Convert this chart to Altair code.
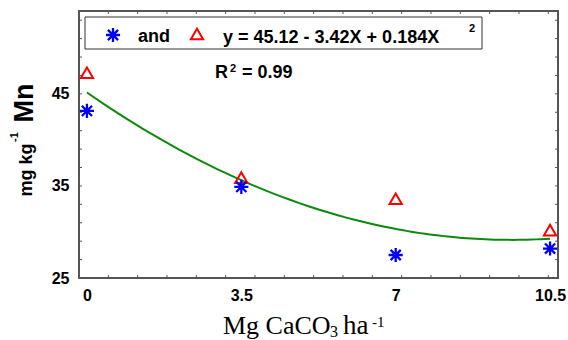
import altair as alt
import pandas as pd

# ---- data ----
x_levels = [0, 3.5, 7, 10.5]
mn_star = [43.15, 34.9, 27.5, 28.2]     # blue asterisks
mn_tri = [47.3, 35.9, 33.6, 30.2]       # red open triangles
x_labels = [0, 3.5, 7, 10.5]
y_labels = [25, 35, 45]
y_minor = list(range(25, 55, 2))
x_minor = [0.485, 1.15, 1.815, 2.48, 3.145, 3.81, 4.475, 5.14, 5.805,
           6.47, 7.135, 7.8, 8.465, 9.13, 9.795, 10.46]

W, H = 479, 267
FRAME = "#555555"
SANS = "Liberation Sans"
SERIF = "Liberation Serif"
STAR = "M-1,0H1M0,-1V1M-0.72,-0.72L0.72,0.72M-0.72,0.72L0.72,-0.72"

df_star = pd.DataFrame({"x": x_levels, "y": mn_star})
df_tri = pd.DataFrame({"x": x_levels, "y": mn_tri})
df_all = pd.concat([df_star, df_tri], ignore_index=True)
df_xt = pd.DataFrame({"v": x_minor})
df_yt = pd.DataFrame({"v": y_minor})

xs = alt.Scale(domain=[-0.18, 10.68], nice=False, zero=False)
ys = alt.Scale(domain=[25, 54], nice=False, zero=False)
x_axis = alt.Axis(values=x_labels, labelExpr="datum.value + ''", ticks=False, domain=False,
                  grid=False, labelFont=SANS, labelFontSize=16, labelFontWeight="bold",
                  labelColor="#000000", labelPadding=9)
y_axis = alt.Axis(values=y_labels, labelExpr="datum.value + ''", ticks=False, domain=False,
                  grid=False, labelFont=SANS, labelFontSize=16, labelFontWeight="bold",
                  labelColor="#000000", labelPadding=10)


def X(f):
    return alt.X(f + ":Q", scale=xs, axis=x_axis, title="")


def Y(f):
    return alt.Y(f + ":Q", scale=ys, axis=y_axis, title="")


STAR_STYLE = dict(shape=STAR, filled=False, size=200, strokeWidth=2.3, color="#0000ff", opacity=1)
TRI_STYLE = dict(shape="triangle-up", filled=False, size=150, strokeWidth=2, color="#ff0000", opacity=1)

curve = alt.Chart(df_all).transform_regression(
    "x", "y", method="poly", order=2, extent=[0, 10.5]
).mark_line(color="#0b8a0b", strokeWidth=2).encode(x=X("x"), y=Y("y"))

stars = alt.Chart(df_star).mark_point(**STAR_STYLE).encode(x=X("x"), y=Y("y"))
tris = alt.Chart(df_tri).mark_point(**TRI_STYLE).encode(x=X("x"), y=Y("y"))

tk = dict(color=FRAME, strokeWidth=1)
left_t = alt.Chart(df_yt).mark_rule(**tk).encode(y=Y("v"), x=alt.value(0), x2=alt.value(3))
right_t = alt.Chart(df_yt).mark_rule(**tk).encode(y=Y("v"), x=alt.value(W), x2=alt.value(W - 3))
bot_t = alt.Chart(df_xt).mark_rule(**tk).encode(x=X("v"), y=alt.value(H), y2=alt.value(H - 3))
top_t = alt.Chart(df_xt).mark_rule(**tk).encode(x=X("v"), y=alt.value(0), y2=alt.value(3))


def one():
    return pd.DataFrame({"t": ["."]})


def txt(s, x, y, size, font=SANS, weight="bold", angle=0, align="left"):
    return alt.Chart(pd.DataFrame({"t": [s]})).mark_text(
        font=font, fontSize=size, fontWeight=weight, angle=angle, align=align,
        baseline="alphabetic", color="#000000"
    ).encode(text="t:N", x=alt.value(x), y=alt.value(y))


box = alt.Chart(one()).mark_rect(fill="#ffffff", stroke="#333333", strokeWidth=1).encode(
    x=alt.value(6), x2=alt.value(403), y=alt.value(6), y2=alt.value(38))
leg_star = alt.Chart(one()).mark_point(**STAR_STYLE).encode(x=alt.value(34), y=alt.value(24))
leg_tri = alt.Chart(one()).mark_point(**TRI_STYLE).encode(x=alt.value(118), y=alt.value(23))

texts = [
    txt("and", 59, 31, 18),
    txt("y = 45.12 - 3.42X + 0.184X", 144, 32, 18),
    txt("2", 390, 21, 11),
    txt("R", 136, 67, 18),
    txt("2", 151, 61, 11),
    txt("= 0.99", 163, 67, 18),
    # x title
    txt("Mg CaCO", 144, 323, 26, font=SERIF, weight="normal"),
    txt("3", 251, 326, 16, font=SERIF, weight="normal"),
    txt("ha", 264, 323, 27, font=SERIF, weight="normal"),
    txt("-1", 293, 316, 15, font=SERIF, weight="normal"),
    # y title
    txt("Mn", -46, 92, 27, angle=270, align="center"),
    txt("mg kg", -47, 159, 18, angle=270, align="center"),
    txt("-1", -61, 126, 11, angle=270, align="center"),
]

chart = alt.layer(
    left_t, right_t, bot_t, top_t, curve, tris, stars, box, leg_star, leg_tri, *texts
).properties(
    width=W, height=H,
    autosize=alt.AutoSizeParams(type="none"),
    padding={"left": 79, "top": 11, "right": 10, "bottom": 62},
    background="#ffffff",
).configure_view(stroke=FRAME, strokeWidth=2)

chart.save("out.html", embed_options={"renderer": "svg", "actions": False})
